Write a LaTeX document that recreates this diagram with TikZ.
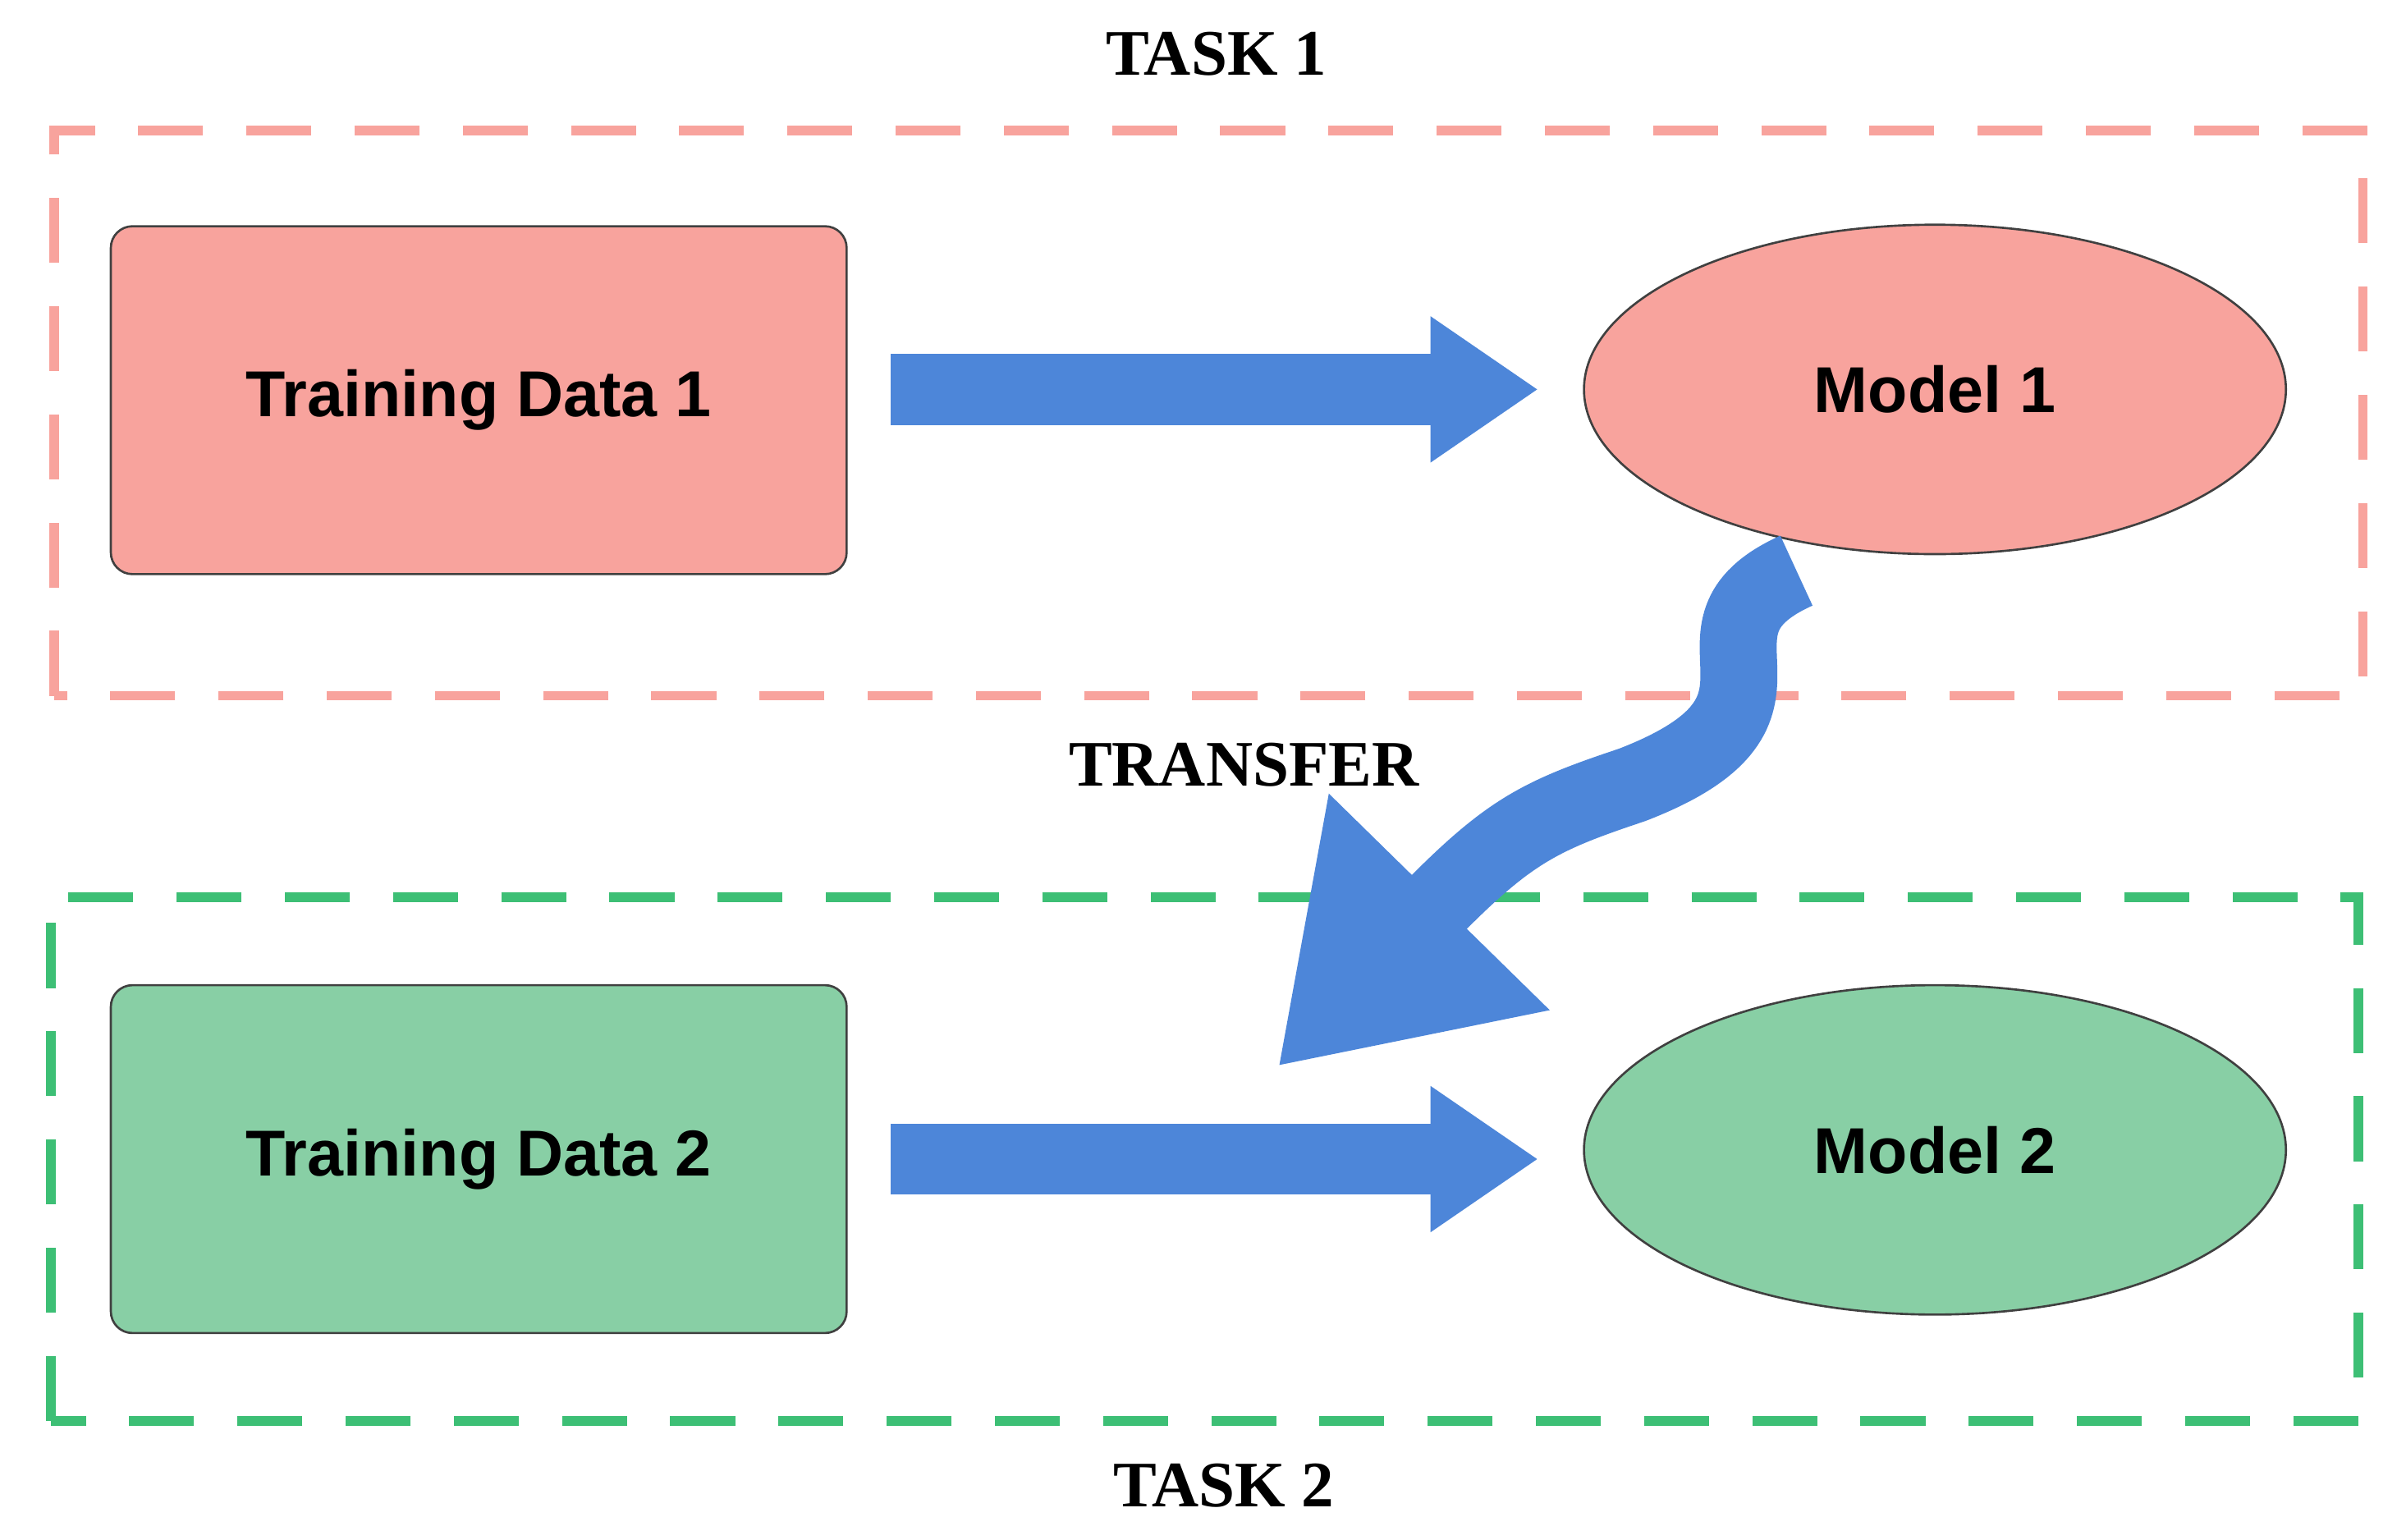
\documentclass[tikz,border=0pt]{standalone}
\usepackage{fontspec}
\setmainfont{Liberation Sans}
\newfontfamily\titlefont{Liberation Serif}
\usetikzlibrary{positioning,arrows.meta,shapes.geometric}
\definecolor{redfill}{HTML}{F8A39D}
\definecolor{greenfill}{HTML}{88CFA5}
\definecolor{redline}{HTML}{F8A39D}
\definecolor{greenline}{HTML}{3DBF75}
\definecolor{arrowblue}{HTML}{4D86D9}
\tikzset{%
  data/.style = {rectangle,rounded corners=4pt,draw=black!75,minimum width=4.78cm,
        minimum height=2.26cm,font=\fontsize{12}{14}\selectfont\bfseries},
  model/.style = {ellipse,draw=black!75,minimum width=4.56cm,
        minimum height=2.14cm,font=\fontsize{12}{14}\selectfont\bfseries},
  task/.style = {font=\titlefont\fontsize{12}{14}\selectfont\bfseries},
  taskbox/.style = {dashed,line width=1.8pt,dash pattern=on 12pt off 8pt},
  blockarrow/.style = {draw=arrowblue,line width=0.46cm,
        -{Triangle[length=0.7cm,width=0.9cm]},shorten <=0.28cm,shorten >=0.29cm}
}
\begin{document}
\begin{tikzpicture}
  \useasboundingbox (0,0) rectangle (15.63,10);
  % task 1
  \draw[taskbox,redline] (0.35,5.48) rectangle (15.35,9.15);
  \node[data,fill=redfill] (td1) at (3.11,7.4) {Training Data 1};
  \node[model,fill=redfill] (m1) at (12.57,7.47) {Model 1};
  \draw[blockarrow] (td1.east |- 0,7.47) -- (m1.west);
  \node[task] (t1) at (7.9,9.65) {TASK 1};
  % task 2
  \draw[taskbox,greenline] (0.33,0.77) rectangle (15.32,4.17);
  \node[data,fill=greenfill] (td2) at (3.11,2.47) {Training Data 2};
  \node[model,fill=greenfill] (m2) at (12.57,2.53) {Model 2};
  \draw[blockarrow] (td2.east |- 0,2.47) -- (m2.west |- 0,2.47);
  \node[task] (t2) at (7.95,0.35) {TASK 2};
  % transfer
  \node[task] (tr) at (8.08,5.03) {TRANSFER};
  \coordinate (tip) at (8.3,3.07);
  \draw[draw=arrowblue,line width=0.5cm,-{Triangle[length=1.5cm,width=1.9cm]}]
    (m1.south) ++(-0.9,-0.1) .. controls (10.8,5.9) and (11.9,5.4) .. (10.6,4.9)
    .. controls (10.0,4.7) and (9.8,4.6) .. (tip);
\end{tikzpicture}
\end{document}
